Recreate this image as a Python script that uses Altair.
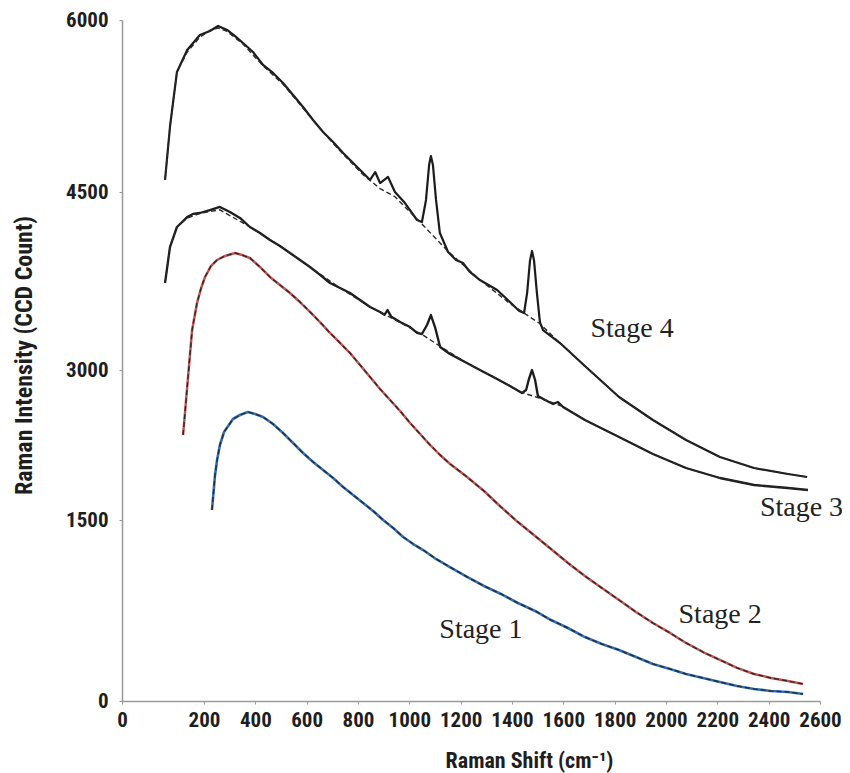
import altair as alt
import pandas as pd

# ---------------- data ----------------
stages = ["Stage 1", "Stage 2", "Stage 3", "Stage 4"]

# Stage 4 measured spectrum (solid)
s4_x = [105, 117, 134, 159, 190, 223, 255, 290, 321, 352, 391, 430, 469, 508, 547,
        586, 625, 664, 703, 742, 781, 820, 847, 867, 886, 917, 944, 983, 1030, 1049,
        1065, 1077, 1084, 1092, 1104, 1119, 1151, 1182, 1209, 1236, 1275, 1342, 1392, 1427, 1447,
        1459, 1470, 1478, 1486, 1497, 1509, 1521, 1587, 1684, 1817, 1949, 2078, 2210, 2343,
        2475, 2550]
s4_y = [4605, 5067, 5547, 5738, 5869, 5904, 5948, 5913, 5860, 5799, 5721, 5608, 5538, 5451, 5346,
        5241, 5128, 5023, 4936, 4840, 4753, 4666, 4605, 4674, 4578, 4631, 4500, 4407, 4264, 4247,
        4433, 4735, 4814, 4735, 4433, 4154, 3994, 3927, 3902, 3826, 3758, 3674, 3573, 3500, 3480,
        3650, 3920, 4003, 3920, 3650, 3400, 3337, 3227, 3034, 2730, 2500, 2300, 2130, 2020,
        1960, 1930]
# Stage 4 fitted background (dashed)
d4_x = [105, 117, 134, 159, 190, 223, 255, 290, 352, 430, 508, 586, 664, 742, 820, 886,
        944, 1049, 1151, 1275, 1392, 1509, 1587, 1684, 1817, 1949, 2078, 2210, 2343, 2475, 2550]
d4_y = [4605, 5067, 5547, 5720, 5850, 5910, 5930, 5900, 5790, 5600, 5440, 5230, 5020, 4830, 4650, 4530,
        4460, 4230, 4000, 3760, 3560, 3390, 3227, 3034, 2730, 2500, 2300, 2130, 2020, 1960, 1930]

# Stage 3 measured spectrum (solid)
s3_x = [105, 117, 134, 159, 173, 190, 223, 262, 301, 340, 379, 418, 457, 496, 535,
        574, 613, 652, 691, 730, 769, 808, 847, 886, 903, 915, 930, 964, 1003, 1030,
        1049, 1069, 1084, 1100, 1120, 1158, 1217, 1275, 1342, 1392, 1439, 1455, 1466, 1478, 1490,
        1501, 1529, 1560, 1579, 1599, 1684, 1817, 1949, 2078, 2210, 2343, 2475, 2553]
s3_y = [3733, 4036, 4205, 4289, 4315, 4323, 4348, 4374, 4331, 4281, 4205, 4154, 4096, 4045, 3986,
        3927, 3868, 3801, 3733, 3691, 3649, 3590, 3531, 3489, 3465, 3505, 3448, 3404, 3362, 3312,
        3303, 3379, 3463, 3362, 3194, 3135, 3067, 3000, 2910, 2840, 2770, 2800, 2910, 3000, 2900,
        2740, 2700, 2660, 2680, 2630, 2500, 2330, 2160, 2020, 1920, 1850, 1820, 1800]
# Stage 3 fitted background (dashed)
d3_x = [105, 117, 134, 159, 190, 262, 379, 496, 613, 730, 847, 964, 1049, 1120, 1217,
        1342, 1439, 1529, 1599, 1684, 1817, 1949, 2078, 2210, 2343, 2475, 2553]
d3_y = [3733, 4036, 4205, 4280, 4320, 4350, 4205, 4045, 3868, 3691, 3531, 3400, 3300, 3200, 3067,
        2910, 2775, 2700, 2635, 2500, 2330, 2160, 2020, 1920, 1850, 1820, 1800]

# Stage 2 spectrum
s2_x = [149, 159, 171, 183, 193, 204, 227, 251, 282, 321, 348, 379, 418, 457, 496,
        535, 574, 613, 652, 691, 730, 769, 808, 847, 886, 925, 964, 1003, 1042, 1081,
        1120, 1159, 1225, 1291, 1357, 1423, 1490, 1552, 1618, 1684, 1750, 1817, 1883, 1949, 2016,
        2078, 2144, 2210, 2277, 2343, 2409, 2475, 2534]
s2_y = [2350, 2830, 3337, 3565, 3691, 3784, 3876, 3927, 3961, 3986, 3969, 3944, 3868, 3784, 3716,
        3649, 3573, 3489, 3404, 3312, 3228, 3143, 3042, 2930, 2810, 2700, 2590, 2470, 2360, 2250,
        2150, 2060, 1930, 1790, 1630, 1483, 1367, 1260, 1144, 1036, 936, 837, 738, 646, 564,
        481, 406, 340, 274, 224, 191, 166, 141]

# Stage 1 spectrum
s1_x = [231, 243, 251, 262, 278, 313, 340, 371, 399, 430, 469, 508, 547, 586, 625,
        664, 703, 742, 781, 820, 859, 898, 937, 976, 1015, 1054, 1104, 1158, 1225, 1291,
        1357, 1423, 1490, 1552, 1618, 1684, 1750, 1817, 1883, 1949, 2016, 2078, 2144, 2210, 2277,
        2343, 2409, 2475, 2534]
s1_y = [1600, 1950, 2100, 2250, 2380, 2510, 2550, 2580, 2560, 2530, 2460, 2370, 2270, 2170, 2080,
        2000, 1920, 1830, 1750, 1670, 1590, 1500, 1434, 1359, 1301, 1251, 1177, 1110, 1028, 953,
        887, 812, 746, 671, 605, 530, 472, 423, 365, 307, 265, 224, 191, 157, 124,
        100, 83, 75, 58]

# stage annotations (data units)
label_text = ["Stage 4", "Stage 3", "Stage 2", "Stage 1"]
label_x = [1868, 2528, 2211, 1279]
label_y = [3346, 1620, 713, 588]

x_ticks = [0, 200, 400, 600, 800, 1000, 1200, 1400, 1600, 1800, 2000, 2200, 2400, 2600]
y_ticks = [0, 1500, 3000, 4500, 6000]

# ---------------- tables ----------------
def frame(xs, ys, name):
    return pd.DataFrame({"shift": xs, "intensity": ys, "stage": name})

solid = pd.concat([frame(s1_x, s1_y, "Stage 1"), frame(s2_x, s2_y, "Stage 2"),
                   frame(s3_x, s3_y, "Stage 3"), frame(s4_x, s4_y, "Stage 4")])
fit = pd.concat([frame(s1_x, s1_y, "Stage 1"), frame(s2_x, s2_y, "Stage 2"),
                 frame(d3_x, d3_y, "Stage 3"), frame(d4_x, d4_y, "Stage 4")])
labels = pd.DataFrame({"shift": label_x, "intensity": label_y, "text": label_text})

# ---------------- chart ----------------
LABEL_FONT = "Liberation Sans Narrow, Arial Narrow, Roboto Condensed, Liberation Sans, sans-serif"

x_scale = alt.Scale(domain=[0, 200, 2600], range=[0, 82, 698], zero=False, nice=False)
y_scale = alt.Scale(domain=[0, 1500, 3000, 4500, 6000], range=[681, 500, 350, 172, 0],
                    zero=False, nice=False)

x_axis = alt.Axis(values=x_ticks, format="d", title="Raman Shift (cm⁻¹)", grid=False,
                  domainColor="#9a9a9a", domainWidth=1.5, tickColor="#9a9a9a", tickSize=3,
                  labelFont=LABEL_FONT, labelFontSize=21, labelFontWeight="bold",
                  labelColor="#1e1e1e", labelPadding=5, labelFlush=False, labelOverlap=False,
                  titleFont=LABEL_FONT, titleFontSize=22, titleFontWeight="bold",
                  titleColor="#1e1e1e", titleX=407, titleY=59, titleAlign="center",
                  titleBaseline="middle")
y_axis = alt.Axis(values=y_ticks, format="d", title="Raman Intensity (CCD Count)", grid=False,
                  domainColor="#9a9a9a", domainWidth=1.5, tickColor="#9a9a9a", tickSize=3,
                  labelFont=LABEL_FONT, labelFontSize=21, labelFontWeight="bold",
                  labelColor="#1e1e1e", labelPadding=11, labelOverlap=False,
                  titleFont=LABEL_FONT, titleFontSize=24, titleFontWeight="bold",
                  titleColor="#1e1e1e", titleX=-98, titleY=335, titleAngle=-90,
                  titleAlign="center", titleBaseline="middle")

X = alt.X("shift:Q", scale=x_scale, axis=x_axis)
Y = alt.Y("intensity:Q", scale=y_scale, axis=y_axis)

solid_layer = alt.Chart(solid).mark_line(strokeJoin="round").encode(
    x=X, y=Y,
    color=alt.Color("stage:N", scale=alt.Scale(domain=stages,
                    range=["#2f6fba", "#c8524f", "#1c1c1c", "#1c1c1c"]), legend=None),
    strokeWidth=alt.StrokeWidth("stage:N", scale=alt.Scale(domain=stages,
                    range=[2.6, 2.2, 2.0, 2.0]), legend=None),
)

fit_layer = alt.Chart(fit).mark_line(strokeDash=[5, 3], strokeWidth=1.4, color="#2a2a2a").encode(
    x=X, y=Y, detail="stage:N"
)

text_layer = alt.Chart(labels).mark_text(font="Liberation Serif", fontSize=28,
                                          color="#222222", align="center",
                                          baseline="middle").encode(
    x=X, y=Y, text="text:N"
)

chart = alt.layer(solid_layer, fit_layer, text_layer).properties(
    width=698, height=681,
    autosize=alt.AutoSizeParams(type="none"),
    padding={"left": 114, "top": 12, "right": 22, "bottom": 72},
    background="white",
).configure_view(stroke=None)

chart.save("out.html", embed_options={"renderer": "svg", "actions": False})
